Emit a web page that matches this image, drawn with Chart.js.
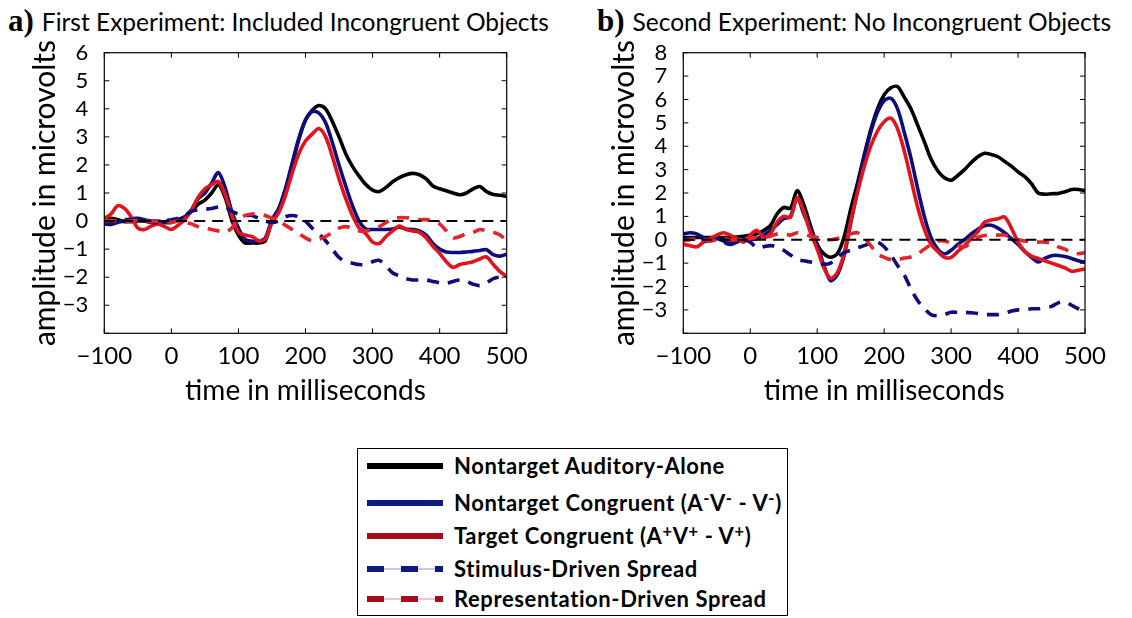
<!DOCTYPE html>
<html>
<head>
<meta charset="utf-8">
<script src="https://cdn.jsdelivr.net/npm/chart.js@4.4.1/dist/chart.umd.min.js"></script>
<style>
  body { margin: 0; background: #fff; width: 1132px; height: 618px; position: relative; overflow: hidden; font-family: Lato, sans-serif; }
  .ttl { position: absolute; top: 3px; white-space: nowrap; color: #000; }
  .ttl b { font-family: "Liberation Serif", serif; font-size: 31px; font-weight: bold; margin-right: 8px; }
  .ttl span { font-size: 24.5px; }
  canvas { position: absolute; }
  #legend { position: absolute; left: 357px; top: 448px; width: 431px; height: 168px; border: 1.5px solid #000; box-sizing: border-box; }
  .row { position: absolute; left: 0; height: 30px; width: 100%; }
  .smp { position: absolute; left: 9px; width: 76px; top: 12px; height: 6px; }
  .txt { position: absolute; left: 96px; top: 1px; font-weight: bold; font-size: 22px; letter-spacing: 0.6px; white-space: nowrap; }
  .txt sup { font-size: 0.75em; vertical-align: 0.45em; line-height: 0; }
</style>
</head>
<body>
<div class="ttl" style="left:8px"><b>a)</b><span>First Experiment: Included Incongruent Objects</span></div>
<div class="ttl" style="left:597px"><b>b)</b><span>Second Experiment: No Incongruent Objects</span></div>

<canvas id="chartA" width="530" height="380" style="left:0;top:40px"></canvas>
<canvas id="chartB" width="545" height="380" style="left:570px;top:40px"></canvas>

<div id="legend">
  <div class="row" style="top:2px"><div class="smp" style="background:#000"></div><div class="txt">Nontarget Auditory-Alone</div></div>
  <div class="row" style="top:39px"><div class="smp" style="background:#0d1a80"></div><div class="txt">Nontarget Congruent (A<sup>-</sup>V<sup>-</sup> - V<sup>-</sup>)</div></div>
  <div class="row" style="top:72px"><div class="smp" style="background:#a50d1d"></div><div class="txt">Target Congruent (A<sup>+</sup>V<sup>+</sup> - V<sup>+</sup>)</div></div>
  <div class="row" style="top:105px"><div class="smp" style="background:repeating-linear-gradient(90deg,#0d1a80 0 17px,transparent 17px 34px),linear-gradient(#fff 0 2px,#c8c8ea 2px 4px,#fff 4px)"></div><div class="txt">Stimulus-Driven Spread</div></div>
  <div class="row" style="top:135px"><div class="smp" style="background:repeating-linear-gradient(90deg,#a50d1d 0 17px,transparent 17px 34px),linear-gradient(#fff 0 2px,#eac8c8 2px 4px,#fff 4px)"></div><div class="txt">Representation-Driven Spread</div></div>
</div>

<script>
// time axis (ms)
var T = [-100,-90,-80,-70,-60,-50,-40,-30,-20,-10,0,10,20,30,40,50,60,70,80,90,100,110,120,130,140,150,160,170,180,190,200,210,220,230,240,250,260,270,280,290,300,310,320,330,340,350,360,370,380,390,400,410,420,430,440,450,460,470,480,490,500];

// a) first experiment
var A_AUD = [0.05,0.1,0.05,-0.02,-0.02,0,0,-0.03,-0.03,-0.05, 0,0.05,0.15,0.35,0.6,0.75,1.0,1.3,0.85,0.05, -0.5,-0.78,-0.78,-0.78,-0.7,0,0.4,1.1,2.0,2.9, 3.6,3.95,4.12,4.0,3.55,3.0,2.4,1.95,1.6,1.3, 1.1,1.05,1.2,1.4,1.55,1.65,1.7,1.65,1.5,1.25, 1.15,1.08,1.0,0.94,1.0,1.15,1.23,1.05,0.95,0.92,0.88];
var A_CON = [-0.1,-0.12,-0.05,0,0.08,0.1,0.05,0,0,-0.05, -0.05,0.05,0.15,0.4,0.8,1.0,1.35,1.73,1.2,0.35, -0.25,-0.65,-0.72,-0.72,-0.6,0.05,0.45,1.15,2.05,2.95, 3.6,3.9,3.85,3.5,2.8,2.0,1.25,0.55,0,-0.28, -0.3,-0.3,-0.3,-0.28,-0.22,-0.28,-0.3,-0.35,-0.5,-0.8, -1.0,-1.1,-1.12,-1.12,-1.1,-1.08,-1.05,-1.02,-1.2,-1.25,-1.18];
var A_TGT = [0.1,0.25,0.55,0.45,0.15,-0.25,-0.3,-0.18,-0.1,-0.2, -0.3,-0.15,0.05,0.4,0.85,1.15,1.3,1.41,0.95,0.2, -0.4,-0.5,-0.55,-0.7,-0.65,-0.05,0.3,0.9,1.7,2.4, 2.85,3.1,3.3,3.0,2.3,1.5,0.8,0.2,-0.25,-0.45, -0.75,-0.8,-0.55,-0.35,-0.18,-0.3,-0.35,-0.4,-0.6,-0.9, -1.15,-1.45,-1.65,-1.55,-1.5,-1.45,-1.35,-1.28,-1.55,-1.8,-1.97];
var A_STIM = [-0.05,-0.05,0,0.05,0.05,0,0,-0.05,-0.05,0, 0.05,0.1,0.2,0.35,0.4,0.42,0.45,0.5,0.5,0.35, 0.25,0.2,0.2,0.1,0,-0.05,0,0.15,0.2,0.15, 0,-0.25,-0.45,-0.7,-1.0,-1.3,-1.45,-1.5,-1.55,-1.55, -1.45,-1.4,-1.6,-1.85,-1.95,-2.05,-2.1,-2.1,-2.1,-2.15, -2.2,-2.22,-2.15,-2.1,-2.15,-2.25,-2.3,-2.2,-2.05,-2.0,-2.1];
var A_REP = [0,0.02,0,-0.02,0,0.02,0,-0.02,0,0, -0.05,0,-0.05,-0.1,-0.2,-0.25,-0.3,-0.35,-0.4,-0.25, 0.05,0.2,0.25,0.25,0.2,0.1,0,-0.15,-0.3,-0.45, -0.6,-0.7,-0.65,-0.55,-0.4,-0.25,-0.2,-0.25,-0.35,-0.35, -0.3,-0.2,-0.05,0.08,0.12,0.12,0.1,0.05,0.05,0, -0.1,-0.35,-0.6,-0.55,-0.45,-0.4,-0.3,-0.35,-0.4,-0.5,-0.7];

// b) second experiment
var B_AUD = [0.1,0.1,0.1,0.1,0.1,0.1,0.1,0.1,0.12,0.15, 0.2,0.25,0.4,0.6,1.1,1.38,1.35,2.1,1.5,0.6, -0.2,-0.6,-0.75,-0.6,0.1,1.3,2.4,3.6,4.7,5.6, 6.2,6.5,6.55,6.1,5.6,4.9,4.2,3.45,2.95,2.65, 2.55,2.75,3.0,3.3,3.55,3.7,3.65,3.55,3.35,3.15, 2.9,2.7,2.4,2.0,1.95,1.97,1.98,2.05,2.15,2.15,2.1];
var B_CON = [0.25,0.3,0.25,0.1,0,0.05,-0.05,-0.1,-0.1,0, 0,0.05,0.2,0.4,0.65,0.9,1.0,1.8,1.1,0.45, -0.2,-1.1,-1.75,-1.5,-0.7,0.7,2.1,3.5,4.6,5.45, 5.95,6.05,5.6,4.6,3.5,2.2,1.0,0.1,-0.4,-0.6, -0.45,-0.2,0,0.25,0.45,0.6,0.62,0.5,0.3,0.05, -0.2,-0.5,-0.75,-0.95,-0.8,-0.68,-0.67,-0.72,-0.8,-0.9,-0.96];
var B_TGT = [-0.2,-0.25,-0.3,-0.1,0.05,0.2,0.3,0.2,0.05,-0.1, 0.2,0.4,0.1,0.25,0.75,1.0,0.95,1.8,1.2,0.3, -0.4,-1.2,-1.65,-1.4,-0.6,0.8,2.0,3.1,4.0,4.65, 5.05,5.2,4.75,3.8,2.6,1.4,0.45,-0.2,-0.5,-0.75, -0.75,-0.5,-0.25,0.05,0.35,0.75,0.85,0.9,0.97,0.5, -0.1,-0.5,-0.7,-0.8,-0.9,-1.0,-1.1,-1.2,-1.35,-1.3,-1.25];
var B_STIM = [0,0.05,0,-0.05,-0.05,0,-0.1,-0.2,-0.1,0, -0.1,-0.35,-0.3,-0.25,-0.3,-0.45,-0.65,-0.85,-0.9,-0.95, -1.0,-1.05,-1.0,-0.75,-0.55,-0.45,-0.35,-0.25,-0.15,-0.1, -0.3,-0.65,-1.1,-1.5,-2.1,-2.6,-2.95,-3.2,-3.25,-3.2, -3.1,-3.1,-3.1,-3.12,-3.15,-3.2,-3.2,-3.2,-3.15,-3.05, -3.0,-3.0,-2.95,-2.95,-2.9,-2.85,-2.7,-2.65,-2.8,-2.95,-3.05];
var B_REP = [-0.05,0,0.05,0,-0.05,0,0.05,0,0,0.05, 0.05,0.1,0.1,0.15,0.25,0.25,0.2,0.3,0.25,0.15, 0.1,0.05,0,0.05,0.15,0.25,0.3,0.1,-0.25,-0.6, -0.75,-0.85,-0.85,-0.78,-0.74,-0.6,-0.4,-0.2,-0.05,-0.05, -0.15,-0.25,-0.3,-0.1,0.1,0.18,0.2,0.2,0.2,0.1, 0,-0.05,-0.1,-0.1,-0.1,-0.15,-0.3,-0.4,-0.55,-0.6,-0.55];

// dashed zero reference
var ZERO_T = [-100, 500];
var ZERO_V = [0, 0];

var X_TICKS = [-100, 0, 100, 200, 300, 400, 500];

function pts(xs, ys) {
    return xs.map(function (x, i) { return { x: x, y: ys[i] }; });
}

function fmt(v) {
    return v < 0 ? '\u2212' + (-v) : String(v);
}

// MATLAB-style box with inward ticks
var framePlugin = {
    id: 'frame',
    afterDraw: function (chart) {
        var ctx = chart.ctx, a = chart.chartArea;
        var sx = chart.scales.x, sy = chart.scales.y;
        ctx.save();
        ctx.strokeStyle = '#000';
        ctx.lineWidth = 1.2;
        ctx.strokeRect(a.left, a.top, a.right - a.left, a.bottom - a.top);
        ctx.lineWidth = 1;
        ctx.beginPath();
        sx.ticks.forEach(function (t) {
            var p = sx.getPixelForValue(t.value);
            ctx.moveTo(p, a.bottom); ctx.lineTo(p, a.bottom - 5);
            ctx.moveTo(p, a.top); ctx.lineTo(p, a.top + 5);
        });
        sy.ticks.forEach(function (t) {
            var p = sy.getPixelForValue(t.value);
            ctx.moveTo(a.left, p); ctx.lineTo(a.left + 5, p);
            ctx.moveTo(a.right, p); ctx.lineTo(a.right - 5, p);
        });
        ctx.stroke();
        ctx.restore();
    }
};

function line(data, color, dash, width) {
    return {
        data: data,
        borderColor: color,
        borderWidth: width || 3.6,
        borderDash: dash || [],
        pointRadius: 0,
        tension: 0.3,
        fill: false
    };
}

function makeChart(id, s, yMin, yMax, yAxisW, titlePad, padRight) {
    new Chart(document.getElementById(id), {
        type: 'line',
        data: {
            datasets: [
                line(pts(ZERO_T, ZERO_V), '#000', [11, 7], 2),
                line(pts(T, s.rep), '#e3242b', [12, 9]),
                line(pts(T, s.stim), '#0d0d80', [12, 9]),
                line(pts(T, s.tgt), '#e3131b'),
                line(pts(T, s.con), '#0d0d80'),
                line(pts(T, s.aud), '#000')
            ]
        },
        options: {
            responsive: false,
            animation: false,
            layout: { padding: { top: 12.7, right: padRight, left: 0, bottom: 0 } },
            plugins: { legend: { display: false }, tooltip: { enabled: false } },
            scales: {
                x: {
                    type: 'linear',
                    min: -100,
                    max: 500,
                    afterBuildTicks: function (sc) { sc.ticks = X_TICKS.map(function (v) { return { value: v }; }); },
                    grid: { display: false },
                    border: { display: false },
                    ticks: { autoSkip: false, maxRotation: 0, padding: 1, color: '#000', font: { family: 'Lato', size: 24 }, callback: fmt },
                    title: { display: true, text: 'time in milliseconds', color: '#000', font: { family: 'Lato', size: 28 }, padding: { top: 0, bottom: 12 } },
                    afterFit: function (sc) { sc.height = 86.7; sc.paddingLeft = 0; sc.paddingRight = 0; }
                },
                y: {
                    min: yMin,
                    max: yMax,
                    grid: { display: false },
                    border: { display: false },
                    ticks: {
                        autoSkip: false, stepSize: 1, padding: 8, color: '#000', font: { family: 'Lato', size: 22, lineHeight: 1 },
                        callback: function (v) { return v === yMin ? '' : fmt(v); }
                    },
                    title: { display: true, text: 'amplitude in microvolts', color: '#000', font: { family: 'Lato', size: 30 }, padding: { top: titlePad, bottom: 0 } },
                    afterFit: function (sc) { sc.width = yAxisW; sc.paddingTop = 0; sc.paddingBottom = 0; }
                }
            }
        },
        plugins: [framePlugin]
    });
}

makeChart('chartA', { aud: A_AUD, con: A_CON, tgt: A_TGT, stim: A_STIM, rep: A_REP }, -4, 6, 104.3, 27, 23.3);
makeChart('chartB', { aud: B_AUD, con: B_CON, tgt: B_TGT, stim: B_STIM, rep: B_REP }, -4, 8, 113.3, 36, 30);
</script>
</body>
</html>
